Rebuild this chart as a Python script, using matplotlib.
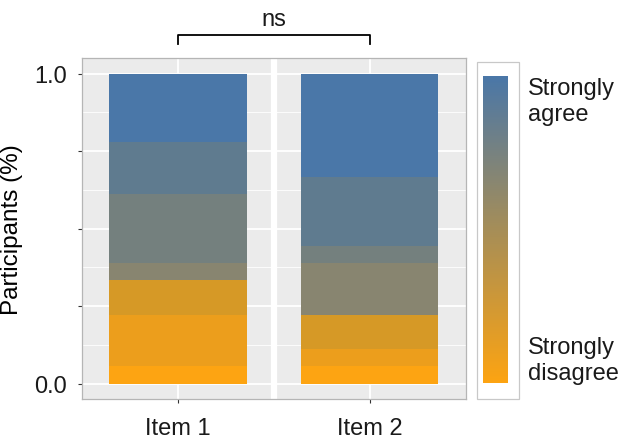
import numpy as np
import matplotlib
matplotlib.use('Agg')
import matplotlib.pyplot as plt
from matplotlib.colors import LinearSegmentedColormap
from matplotlib.patches import Rectangle

plt.rcParams['font.family'] = ['Liberation Sans', 'DejaVu Sans']

items = ['Item 1', 'Item 2']
# share of participants per response level, from strongly disagree (first) to strongly agree (last)
item1 = [1/18, 3/18, 2/18, 1/18, 4/18, 3/18, 4/18]
item2 = [1/18, 1/18, 2/18, 3/18, 1/18, 4/18, 6/18]
level_colors = ['#FDA412', '#EC9E1C', '#D69926', '#888570', '#74807E', '#5F7B8F', '#4A77A8']
y_ticks = [0, 0.25, 0.5, 0.75, 1.0]
y_ticklabels = ['0.0', '', '', '', '1.0']
legend_labels = ['Strongly\nagree', 'Strongly\ndisagree']
sig_label = 'ns'

fig = plt.figure(figsize=(6.26, 4.39), dpi=100)
ax = fig.add_axes([0.131, 0.0888, 0.613, 0.7768])
ax.set_facecolor('#EBEBEB')

x = np.arange(1, len(items) + 1)
shares = np.array([item1, item2])
bottom = np.zeros(len(items))
for k, col in enumerate(level_colors):
    ax.bar(x, shares[:, k], bottom=bottom, width=0.715, color=col, zorder=3)
    bottom += shares[:, k]

ax.set_xlim(0.5, 2.5)
ax.set_ylim(-0.05, 1.05)
ax.set_yticks(y_ticks)
ax.set_yticklabels(y_ticklabels)
ax.set_yticks(np.arange(0.125, 1.0, 0.25), minor=True)
ax.set_xticks(x)
ax.set_xticklabels(items)
ax.tick_params(axis='both', which='major', labelsize=17, length=3, width=0.8,
               color='#333333', labelcolor='#1a1a1a')
ax.tick_params(axis='y', which='major', pad=8)
ax.tick_params(axis='x', which='major', pad=10)
ax.tick_params(axis='y', which='minor', length=0)
ax.grid(True, which='major', color='white', linewidth=1.3, zorder=0)
ax.grid(True, which='minor', axis='y', color='white', linewidth=0.6, zorder=0)
ax.axvline(1.5, color='white', linewidth=4.5, zorder=1)
for s in ax.spines.values():
    s.set_color('#B5B5B5')
    s.set_linewidth(0.9)
ax.set_ylabel('Participants (%)', fontsize=17.5, labelpad=8)

# significance bracket
ax.plot([1, 1, 2, 2], [1.094, 1.123, 1.123, 1.094], color='black', linewidth=1.3,
        clip_on=False, zorder=5)
ax.text(1.5, 1.155, sig_label, ha='center', va='baseline', fontsize=17, color='#1a1a1a')

# gradient legend
cmap = LinearSegmentedColormap.from_list('lik', [level_colors[0], '#A68E58', level_colors[-1]])
cax = fig.add_axes([0.7716, 0.1253, 0.0399, 0.6993])
grad = np.linspace(0, 1, 256).reshape(-1, 1)
cax.imshow(grad, aspect='auto', cmap=cmap, origin='lower', extent=[0, 1, 0, 1])
cax.set_xticks([])
cax.set_yticks([])
for s in cax.spines.values():
    s.set_visible(False)
fig.patches.append(Rectangle((0.762, 0.0888), 0.0671, 0.7677, transform=fig.transFigure,
                             fill=False, edgecolor='#C8C8C8', linewidth=0.9))
fig.text(0.843, 0.768, legend_labels[0], ha='left', va='center', fontsize=17,
         linespacing=1.25, color='#1a1a1a')
fig.text(0.843, 0.178, legend_labels[1], ha='left', va='center', fontsize=17,
         linespacing=1.25, color='#1a1a1a')

fig.savefig('out.png', dpi=100)
